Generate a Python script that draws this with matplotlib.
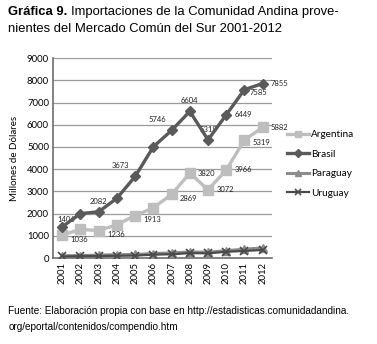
import matplotlib
matplotlib.use("Agg")
import matplotlib.pyplot as plt
import numpy as np

years = ["2001", "2002", "2003", "2004", "2005", "2006",
         "2007", "2008", "2009", "2010", "2011", "2012"]
argentina = [1036, 1290, 1236, 1500, 1913, 2260, 2869, 3820, 3072, 3966, 5319, 5882]
brasil = [1406, 2000, 2082, 2690, 3673, 5010, 5746, 6604, 5318, 6449, 7585, 7855]
paraguay = [100, 110, 130, 150, 160, 200, 230, 270, 260, 330, 400, 450]
uruguay = [70, 80, 90, 100, 110, 150, 170, 220, 210, 280, 320, 360]

# which points carry a value label, and where it goes (offset in points)
arg_labels = {0: (6, -3), 2: (6, -3), 4: (6, -3), 6: (6, -3), 7: (6, 0),
              8: (6, 0), 9: (6, 0), 10: (6, -2), 11: (6, 0)}
bra_labels = {0: (3, 3), 2: (0, 5), 4: (-4, 5), 6: (-4, 5), 7: (0, 5),
              8: (0, 5), 9: (6, 0), 10: (4, -2), 11: (6, 0)}

chart_font = "Lato"
plt.rcParams["font.family"] = ["Liberation Sans", "DejaVu Sans"]

fig = plt.figure(figsize=(3.77, 3.44), dpi=100)
ax = fig.add_axes([0.141, 0.25, 0.58, 0.581])

x = np.arange(len(years))
ax.plot(x, argentina, color="#BEBEBE", lw=2.4, marker="s", ms=6.5, label="Argentina", zorder=3)
ax.plot(x, brasil, color="#5A5A5A", lw=2.4, marker="D", ms=5, label="Brasil", zorder=4)
ax.plot(x, paraguay, color="#8C8C8C", lw=2.2, marker="^", ms=6, label="Paraguay", zorder=3)
ax.plot(x, uruguay, color="#4A4A4A", lw=1.6, marker="x", ms=6, mew=1.2, label="Uruguay", zorder=3)

for i, off in arg_labels.items():
    ax.annotate(str(argentina[i]), (x[i], argentina[i]), xytext=off, textcoords="offset points",
                ha="left" if off[0] > 0 else "center", va="center",
                fontsize=5.5, family=chart_font, color="#222222")
for i, off in bra_labels.items():
    if off[0] > 0 and off[1] <= 0:
        ha, va = "left", "center"
    elif off[0] < 0:
        ha, va = "right", "bottom"
    else:
        ha, va = "center", "bottom"
    ax.annotate(str(brasil[i]), (x[i], brasil[i]), xytext=off, textcoords="offset points",
                ha=ha, va=va, fontsize=5.5, family=chart_font, color="#222222")

ax.set_xlim(-0.5, 11.5)
ax.set_ylim(0, 9000)
ax.set_yticks(range(0, 9001, 1000))
ax.set_xticks(x)
ax.set_xticklabels(years, rotation=90)
ax.tick_params(length=0, labelsize=6.8, pad=3)
for lab in ax.get_xticklabels() + ax.get_yticklabels():
    lab.set_family(chart_font)
ax.grid(axis="y", color="#9A9A9A", lw=0.9)
ax.set_axisbelow(True)
for s in ["top", "right"]:
    ax.spines[s].set_visible(False)
for s in ["left", "bottom"]:
    ax.spines[s].set_color("#6E6E6E")
    ax.spines[s].set_linewidth(1.2)
ax.set_ylabel("Millones de Dólares", fontsize=7, family=chart_font, labelpad=6)

ax.legend(loc="center left", bbox_to_anchor=(1.03, 0.47), frameon=False,
          prop={"family": chart_font, "size": 7.2}, handlelength=2.2,
          handletextpad=0.2, labelspacing=1.05, markerscale=0.75)

# title: bold lead-in followed by regular text
t_bold = fig.text(0.022, 0.955, "Gráfica 9.", fontsize=9.4, weight="bold", va="baseline")
fig.canvas.draw()
bb = t_bold.get_window_extent()
x_rest = (bb.x1 + 3) / fig.bbox.width
fig.text(x_rest, 0.955, "Importaciones de la Comunidad Andina prove-", fontsize=9.4, va="baseline")
fig.text(0.022, 0.908, "nientes del Mercado Común del Sur 2001-2012", fontsize=9.4, va="baseline")

fig.text(0.022, 0.088, "Fuente: Elaboración propia con base en http://estadisticas.comunidadandina.",
         fontsize=7.2, va="baseline")
fig.text(0.022, 0.042, "org/eportal/contenidos/compendio.htm", fontsize=7.2, va="baseline")

fig.savefig("out.png", dpi=100)
